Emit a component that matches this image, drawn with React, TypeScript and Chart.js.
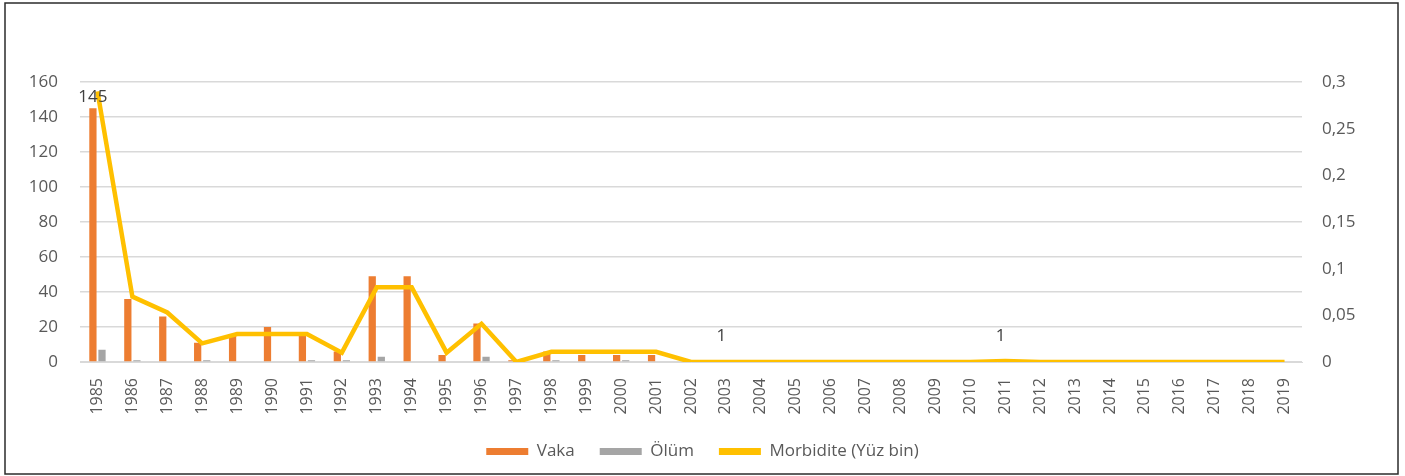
import { useEffect, useRef } from "react";
import { Chart, registerables } from "chart.js";

Chart.register(...registerables);

const years = [
  "1985", "1986", "1987", "1988", "1989", "1990", "1991", "1992", "1993", "1994",
  "1995", "1996", "1997", "1998", "1999", "2000", "2001", "2002", "2003", "2004",
  "2005", "2006", "2007", "2008", "2009", "2010", "2011", "2012", "2013", "2014",
  "2015", "2016", "2017", "2018", "2019",
];

const vaka = [
  145, 36, 26, 11, 16, 20, 16, 6, 49, 49,
  4, 22, 1, 6, 4, 4, 4, 0, 1, 0,
  0, 0, 0, 0, 0, 0, 1, 0, 0, 0,
  0, 0, 0, 0, 0,
];

const olum = [
  7, 1, 0, 1, 0, 0, 1, 1, 3, 0,
  0, 3, 0, 1, 0, 1, 0, 0, 0, 0,
  0, 0, 0, 0, 0, 0, 0, 0, 0, 0,
  0, 0, 0, 0, 0,
];

const morbidite = [
  0.29, 0.07, 0.053, 0.02, 0.03, 0.03, 0.03, 0.01, 0.08, 0.08,
  0.01, 0.041, 0, 0.011, 0.011, 0.011, 0.011, 0, 0, 0,
  0, 0, 0, 0, 0, 0, 0.001, 0, 0, 0,
  0, 0, 0, 0, 0,
];

// years whose Vaka value carries a data label
const labelledVaka = ["1985", "2003", "2011"];

const leftTicks = [0, 20, 40, 60, 80, 100, 120, 140, 160];
const rightTicks = [0, 0.05, 0.1, 0.15, 0.2, 0.25, 0.3];

const FONT = "'Open Sans', 'DejaVu Sans', sans-serif";
const TEXT = "#595959";

const framePlugin = {
  id: "frame",
  beforeDraw(chart: any) {
    const ctx = chart.ctx;
    ctx.save();
    ctx.fillStyle = "#ffffff";
    ctx.fillRect(0, 0, chart.width, chart.height);
    ctx.strokeStyle = "#2b2b2b";
    ctx.lineWidth = 1.5;
    ctx.strokeRect(5, 3, chart.width - 12, chart.height - 5);
    ctx.restore();
  },
};

const labelPlugin = {
  id: "vakaLabels",
  afterDatasetsDraw(chart: any) {
    const ctx = chart.ctx;
    const meta = chart.getDatasetMeta(0);
    const base = chart.scales.y.getPixelForValue(0);
    ctx.save();
    ctx.fillStyle = "#404040";
    ctx.font = `17px ${FONT}`;
    ctx.textAlign = "center";
    ctx.textBaseline = "bottom";
    labelledVaka.forEach((yr) => {
      const i = years.indexOf(yr);
      const el = meta.data[i];
      if (!el) return;
      const y = Math.min(el.y, base - 14) - 3;
      ctx.fillText(String(vaka[i]), el.x, y);
    });
    ctx.restore();
  },
};

function fmt(v: number) {
  return String(Number(v.toFixed(2))).replace(".", ",");
}

export default function App() {
  const ref = useRef<HTMLCanvasElement | null>(null);

  useEffect(() => {
    if (!ref.current) return;
    const chart = new Chart(ref.current, {
      type: "bar",
      data: {
        labels: years,
        datasets: [
          {
            type: "bar",
            label: "Vaka",
            data: vaka,
            backgroundColor: "#ED7D31",
            yAxisID: "y",
            order: 2,
            categoryPercentage: 0.52,
            barPercentage: 0.8,
          },
          {
            type: "bar",
            label: "Ölüm",
            data: olum,
            backgroundColor: "#A5A5A5",
            yAxisID: "y",
            order: 2,
            categoryPercentage: 0.52,
            barPercentage: 0.8,
          },
          {
            type: "line",
            label: "Morbidite (Yüz bin)",
            data: morbidite,
            borderColor: "#FFC000",
            backgroundColor: "#FFC000",
            borderWidth: 4.5,
            pointRadius: 0,
            tension: 0,
            yAxisID: "y2",
            order: 1,
          },
        ] as any,
      },
      options: {
        responsive: false,
        animation: false,
        layout: { padding: { top: 82, left: 0, right: 0, bottom: 6 } },
        plugins: {
          legend: {
            position: "bottom",
            labels: {
              boxWidth: 42,
              boxHeight: 7,
              padding: 25,
              color: TEXT,
              font: { family: FONT, size: 17 },
              sort: (a: any, b: any) => a.datasetIndex - b.datasetIndex,
              generateLabels(c: any) {
                const items = Chart.defaults.plugins.legend.labels.generateLabels(c);
                items.forEach((it: any) => {
                  it.lineWidth = 0;
                });
                return items;
              },
            },
          },
          tooltip: { enabled: false },
        },
        scales: {
          x: {
            grid: { display: false },
            border: { display: true, color: "#D9D9D9" },
            ticks: {
              color: TEXT,
              font: { family: FONT, size: 16 },
              minRotation: 90,
              maxRotation: 90,
              autoSkip: false,
              padding: 8,
            },
            afterFit(s: any) {
              s.height = 56;
            },
          },
          y: {
            position: "left",
            min: 0,
            max: 160,
            afterBuildTicks(s: any) {
              s.ticks = leftTicks.map((v) => ({ value: v }));
            },
            grid: { color: "#D9D9D9", drawTicks: false, lineWidth: 1.5 },
            border: { display: false },
            ticks: {
              color: TEXT,
              font: { family: FONT, size: 17 },
              padding: 22,
            },
            afterFit(s: any) {
              s.width = 80;
            },
          },
          y2: {
            position: "right",
            min: 0,
            max: 0.3,
            afterBuildTicks(s: any) {
              s.ticks = rightTicks.map((v) => ({ value: v }));
            },
            grid: { display: false, drawTicks: false },
            border: { display: false },
            ticks: {
              color: TEXT,
              font: { family: FONT, size: 17 },
              padding: 20,
              callback: (v: any) => fmt(Number(v)),
            },
            afterFit(s: any) {
              s.width = 103;
            },
          },
        },
      },
      plugins: [framePlugin, labelPlugin],
    });
    return () => chart.destroy();
  }, []);

  return (
    <div style={{ position: "absolute", left: 0, top: 0, width: 1405, height: 476 }}>
      <canvas ref={ref} width={1405} height={476} />
    </div>
  );
}
